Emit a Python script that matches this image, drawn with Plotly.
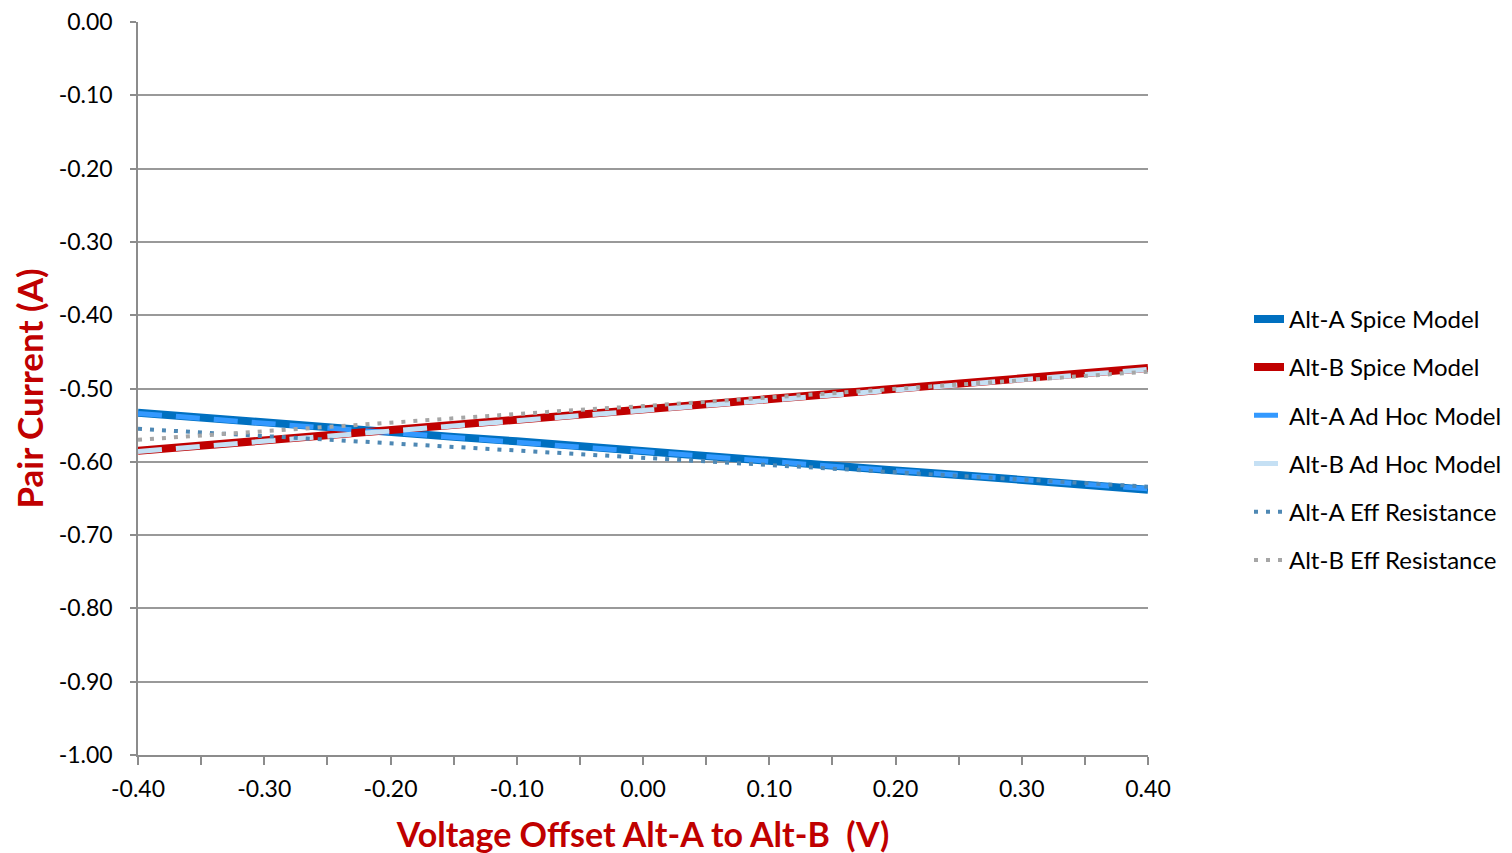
import plotly.graph_objects as go

x_volts = [-0.40, -0.35, -0.30, -0.25, -0.20, -0.15, -0.10, -0.05, 0.00,
           0.05, 0.10, 0.15, 0.20, 0.25, 0.30, 0.35, 0.40]

alt_a_spice = [-0.533, -0.540, -0.546, -0.553, -0.559, -0.566, -0.572, -0.579, -0.586,
               -0.592, -0.599, -0.605, -0.612, -0.618, -0.625, -0.631, -0.638]
alt_b_spice = [-0.585, -0.578, -0.571, -0.564, -0.557, -0.550, -0.543, -0.536, -0.529,
               -0.521, -0.514, -0.507, -0.500, -0.493, -0.486, -0.479, -0.472]
alt_a_adhoc = [-0.534, -0.541, -0.547, -0.554, -0.560, -0.567, -0.573, -0.580, -0.586,
               -0.593, -0.599, -0.606, -0.612, -0.618, -0.625, -0.631, -0.637]
alt_b_adhoc = [-0.586, -0.579, -0.572, -0.565, -0.558, -0.551, -0.544, -0.537, -0.530,
               -0.522, -0.515, -0.508, -0.501, -0.494, -0.487, -0.480, -0.474]
alt_a_eff = [-0.555, -0.560, -0.565, -0.570, -0.575, -0.580, -0.585, -0.589, -0.594,
             -0.599, -0.604, -0.609, -0.614, -0.619, -0.624, -0.629, -0.634]
alt_b_eff = [-0.570, -0.564, -0.558, -0.553, -0.547, -0.541, -0.535, -0.529, -0.524,
             -0.518, -0.512, -0.506, -0.500, -0.495, -0.489, -0.483, -0.477]

y_tickvals = [0.0, -0.1, -0.2, -0.3, -0.4, -0.5, -0.6, -0.7, -0.8, -0.9, -1.0]
y_ticktext = ["0.00", "-0.10", "-0.20", "-0.30", "-0.40", "-0.50", "-0.60",
              "-0.70", "-0.80", "-0.90", "-1.00"]
x_tickvals = [-0.40, -0.35, -0.30, -0.25, -0.20, -0.15, -0.10, -0.05, 0.00,
              0.05, 0.10, 0.15, 0.20, 0.25, 0.30, 0.35, 0.40]
x_ticktext = ["-0.40", "", "-0.30", "", "-0.20", "", "-0.10", "", "0.00",
              "", "0.10", "", "0.20", "", "0.30", "", "0.40"]

series = [
    ("Alt-A Spice Model", alt_a_spice, "#0070C0", 8, "solid"),
    ("Alt-B Spice Model", alt_b_spice, "#C00000", 8, "solid"),
    ("Alt-A Ad Hoc Model", alt_a_adhoc, "#3399FF", 5, "24px,14px"),
    ("Alt-B Ad Hoc Model", alt_b_adhoc, "#C5E0F4", 5, "24px,14px"),
    ("Alt-A Eff Resistance", alt_a_eff, "#4E88B4", 4, "4px,8px"),
    ("Alt-B Eff Resistance", alt_b_eff, "#A6A6A6", 4, "4px,8px"),
]

fig = go.Figure()
for i, (name, vals, color, width, dash) in enumerate(series):
    fig.add_trace(go.Scatter(
        x=x_volts, y=vals, mode="lines", name=name, legendgroup=f"g{i}",
        line=dict(color=color, width=width, dash=dash),
    ))

font_family = "Lato, 'Open Sans', sans-serif"
fig.update_layout(
    width=1512, height=853,
    paper_bgcolor="white", plot_bgcolor="white",
    margin=dict(l=130, r=372, t=14, b=106),
    font=dict(family=font_family, size=23, color="#000000"),
    legend=dict(x=1.1, y=0.43, xanchor="left", yanchor="middle",
                font=dict(size=24, color="#000000"), tracegroupgap=14,
                bgcolor="rgba(0,0,0,0)"),
    xaxis=dict(
        range=[-0.40, 0.40], tickvals=x_tickvals, ticktext=x_ticktext,
        ticks="outside", ticklen=8, tickcolor="#8C8C8C", tickwidth=1.5,
        showline=True, linecolor="#8C8C8C", linewidth=1.5, showgrid=False,
        zeroline=False, tickfont=dict(size=23), automargin=False,
        ticklabelstandoff=5, ticklabeloverflow="allow",
        title=dict(text="Voltage Offset Alt-A to Alt-B  (V)",
                   font=dict(size=34, color="#C00000", family=font_family, weight="bold"),
                   standoff=22),
    ),
    yaxis=dict(
        range=[-1.0, 0.0], tickvals=y_tickvals, ticktext=y_ticktext,
        ticks="outside", ticklen=6, tickcolor="#8C8C8C", tickwidth=1.5,
        showline=True, linecolor="#8C8C8C", linewidth=1.5,
        showgrid=True, gridcolor="#999999", gridwidth=1.5, zeroline=False,
        tickfont=dict(size=23), automargin=False, ticklabelstandoff=13,
        ticklabeloverflow="allow",
        title=dict(text="Pair Current (A)",
                   font=dict(size=35, color="#C00000", family=font_family, weight="bold"),
                   standoff=6),
    ),
)

fig.write_html("out.html")
